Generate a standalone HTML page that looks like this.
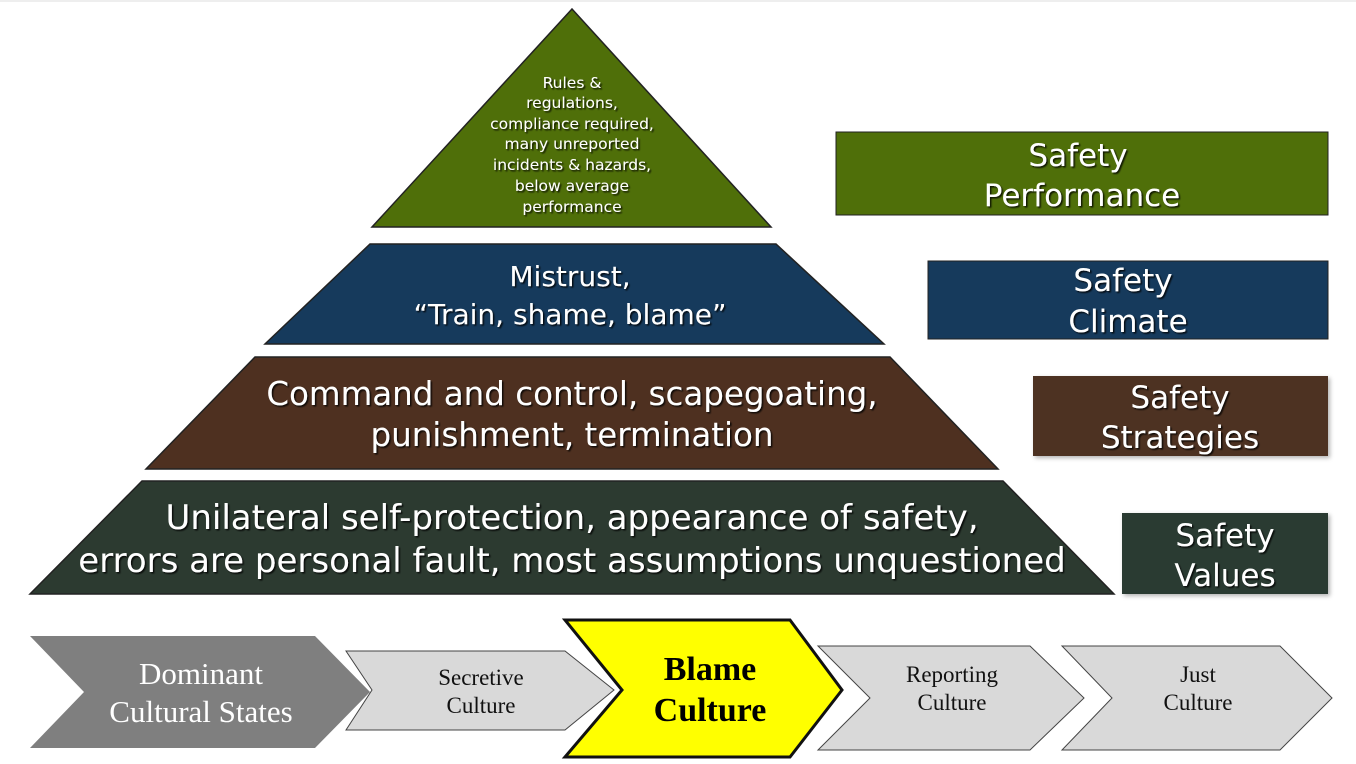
<!DOCTYPE html>
<html><head><meta charset="utf-8"><style>
html,body{margin:0;padding:0;background:#fff;width:1356px;height:764px;overflow:hidden}
svg{display:block}
.w{fill:#fff;font-family:"DejaVu Sans","Liberation Sans",sans-serif;text-anchor:middle;filter:url(#sh)}
.s{font-family:"Liberation Serif",serif;text-anchor:middle}
</style></head><body>
<svg width="1356" height="764" viewBox="0 0 1356 764">
<defs><filter id="sh" x="-5%" y="-20%" width="110%" height="140%"><feDropShadow dx="1.5" dy="1.5" stdDeviation="0.8" flood-color="#000" flood-opacity="0.8"/></filter>
<filter id="bs"><feDropShadow dx="2" dy="2" stdDeviation="2" flood-color="#000" flood-opacity="0.3"/></filter></defs>
<line x1="0" y1="1" x2="1356" y2="1" stroke="#ddd"/>
<polygon points="572,9 771,227 372,227" fill="#4f6f09" stroke="#222" stroke-width="1.5"/>
<polygon points="370,244 776,244 884,344 265,344" fill="#163a5c" stroke="#222" stroke-width="1.5"/>
<polygon points="255,357 890,357 998,469 146,469" fill="#4e3020" stroke="#222" stroke-width="1.5"/>
<polygon points="142,481 1003,481 1114,594 30,594" fill="#2c3a30" stroke="#222" stroke-width="1.5"/>
<g class="w" font-size="15.5">
<text x="572" y="88">Rules &amp;</text><text x="572" y="108">regulations,</text><text x="572" y="129">compliance required,</text><text x="572" y="149">many unreported</text><text x="572" y="170">incidents &amp; hazards,</text><text x="572" y="191">below average</text><text x="572" y="212">performance</text></g>
<g class="w" font-size="28"><text x="570" y="286">Mistrust,</text><text x="570" y="324">“Train, shame, blame”</text></g>
<g class="w" font-size="32.5"><text x="572" y="405">Command and control, scapegoating,</text><text x="572" y="446">punishment, termination</text></g>
<g class="w" font-size="34"><text x="572" y="529">Unilateral self-protection, appearance of safety,</text><text x="572" y="572">errors are personal fault, most assumptions unquestioned</text></g>
<rect x="836" y="132" width="492" height="83" fill="#4f6f09" stroke="#222"/>
<rect x="928" y="261" width="400" height="78" fill="#163a5c" stroke="#222"/>
<rect x="1033" y="376" width="295" height="80" fill="#4e3020" filter="url(#bs)"/>
<rect x="1122" y="513" width="206" height="81" fill="#2c3a30" filter="url(#bs)"/>
<g class="w" font-size="31">
<text x="1078" y="166">Safety</text><text x="1082" y="206">Performance</text>
<text x="1123" y="291">Safety</text><text x="1128" y="332">Climate</text>
<text x="1180" y="408">Safety</text><text x="1180" y="448">Strategies</text>
<text x="1225" y="546">Safety</text><text x="1225" y="586">Values</text></g>
<polygon points="30,636 315,636 370,692 315,748 30,748 84,692" fill="#7f7f7f"/>
<polygon points="346,651 565,651 614,690 565,730 346,730 372,690" fill="#d9d9d9" stroke="#444"/>
<polygon points="818,646 1030,646 1084,698 1030,750 818,750 870,698" fill="#d9d9d9" stroke="#444"/>
<polygon points="1062,646 1280,646 1332,698 1280,750 1062,750 1112,698" fill="#d9d9d9" stroke="#444"/>
<polygon points="565,620 790,620 842,690 790,757 565,757 622,690" fill="#ffff00" stroke="#111" stroke-width="3"/>
<g class="s" fill="#fff" font-size="31"><text x="201" y="684">Dominant</text><text x="201" y="722">Cultural States</text></g>
<g class="s" fill="#111" font-size="23"><text x="481" y="685">Secretive</text><text x="481" y="713">Culture</text>
<text x="952" y="682">Reporting</text><text x="952" y="710">Culture</text>
<text x="1198" y="682">Just</text><text x="1198" y="710">Culture</text></g>
<g class="s" fill="#000" font-size="34" font-weight="bold"><text x="710" y="680">Blame</text><text x="710" y="721">Culture</text></g>
</svg>
</body></html>
